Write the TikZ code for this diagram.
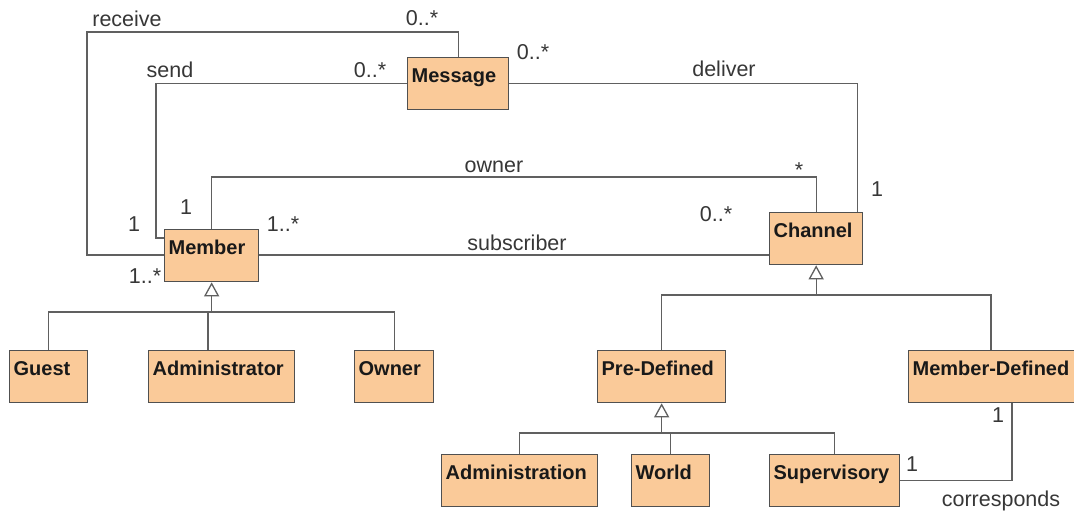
\documentclass[tikz,border=0pt]{standalone}
\usepackage{fontspec}
\setmainfont{Liberation Sans}
\usetikzlibrary{arrows.meta,calc}
\definecolor{peach}{RGB}{250,202,153}
\definecolor{boxline}{RGB}{80,80,80}
\definecolor{wire}{RGB}{96,96,96}
\definecolor{lbl}{RGB}{55,55,55}

\begin{document}
\begin{tikzpicture}[x=1pt,y=-1pt,
  cls/.style={draw=boxline, fill=peach, line width=1.3pt, anchor=north west,
    inner xsep=4pt, inner ysep=0pt, text height=25pt, text depth=27pt,
    align=left, font=\fontsize{20}{24}\selectfont\bfseries, text=black!90},
  assoc/.style={draw=wire, line width=1.3pt},
  gen/.style={assoc, -{Triangle[length=14pt, width=15pt, fill=white]}},
  lab/.style={font=\fontsize{21.5}{25}\selectfont, text=lbl, inner sep=0pt}]

% canvas
\fill[white] (0,0) rectangle (1074,515);
\useasboundingbox (0,0) rectangle (1074,515);

% classes
\node[cls, text width=93pt]  (Message)        at (407,57)  {Message};
\node[cls, text width=86pt]  (Member)         at (164,229) {Member};
\node[cls, text width=85pt]  (Channel)        at (769,212) {Channel};
\node[cls, text width=70pt]  (Guest)          at (9,350)   {Guest};
\node[cls, text width=138pt] (Administrator)  at (148,350) {Administrator};
\node[cls, text width=71pt]  (Owner)          at (354,350) {Owner};
\node[cls, text width=120pt] (PreDefined)     at (597,350) {Pre-Defined};
\node[cls, text width=164pt] (MemberDefined)  at (908,350) {Member-Defined};
\node[cls, text width=148pt] (Administration) at (441,454) {Administration};
\node[cls, text width=70pt]  (World)          at (631,454) {World};
\node[cls, text width=122pt] (Supervisory)    at (769,454) {Supervisory};

% routing helpers
\coordinate (rcvTop) at (0,32);
\coordinate (rcvLeft) at (87,0);
\coordinate (sendLeft) at (156,0);
\coordinate (ownTop) at (0,177);
\coordinate (mBus) at (0,312);
\coordinate (cBus) at (0,295);
\coordinate (pBus) at (0,433);
\coordinate (sendIn) at ($(Member.north west)+(0,9)$);
\coordinate (rcvIn) at ($(Member.north west)+(0,26)$);
\coordinate (delIn) at ($(Channel.north east)+(-6,0)$);
\coordinate (mdTop) at ($(MemberDefined.north west)+(83,0)$);
\coordinate (mdBot) at ($(MemberDefined.south west)+(104,0)$);
\coordinate (adminTop) at ($(Administrator.north west)+(60,0)$);

% associations
\draw[assoc] (Message.north) -- (Message.north |- rcvTop) -| (rcvLeft |- rcvIn) -- (rcvIn);
\draw[assoc] (Message.west) -| (sendLeft |- sendIn) -- (sendIn);
\draw[assoc] (Message.east) -| (delIn);
\draw[assoc] (Member.north) -- (Member.north |- ownTop) -| (Channel.north);
\draw[assoc] (rcvIn -| Member.east) -- (rcvIn -| Channel.west);
\draw[assoc] (Supervisory.east) -| (mdBot);

% generalizations
\draw[gen] (Member.south |- mBus) -- (Member.south);
\draw[assoc] (Guest.north) |- (Owner.north |- mBus) -- (Owner.north);
\draw[assoc] (adminTop) -- (adminTop |- mBus);

\draw[gen] (Channel.south |- cBus) -- (Channel.south);
\draw[assoc] (PreDefined.north) |- (mdTop |- cBus) -- (mdTop);

\draw[gen] (PreDefined.south |- pBus) -- (PreDefined.south);
\draw[assoc] (Administration.north) |- (Supervisory.north |- pBus) -- (Supervisory.north);
\draw[assoc] (World.north) -- (World.north |- pBus);

% association names and multiplicities
\node[lab] (tReceive)  at (127,19)  {receive};
\node[lab] (mRcvMsg)   at (422,18)  {0..*};
\node[lab] (tSend)     at (170,70)  {send};
\node[lab] (mSendMsg)  at (370,70)  {0..*};
\node[lab] (mDelMsg)   at (533,52)  {0..*};
\node[lab] (tDeliver)  at (724,69)  {deliver};
\node[lab] (tOwner)    at (494,167) {owner};
\node[lab] (mOwnCh)    at (799,170) {*};
\node[lab] (mDelCh)    at (877,189) {1};
\node[lab] (mSubCh)    at (716,214) {0..*};
\node[lab] (tSubscr)   at (517,243) {subscriber};
\node[lab] (mRcvMem)   at (134,224) {1};
\node[lab] (mOwnMem)   at (186,207) {1};
\node[lab] (mSubMem)   at (283,224) {1..*};
\node[lab] (mSendMem)  at (145,276) {1..*};
\node[lab] (mCorMD)    at (998,415) {1};
\node[lab] (mCorSup)   at (912,464) {1};
\node[lab] (tCorr)     at (1001,501) {corresponds};
\end{tikzpicture}
\end{document}
